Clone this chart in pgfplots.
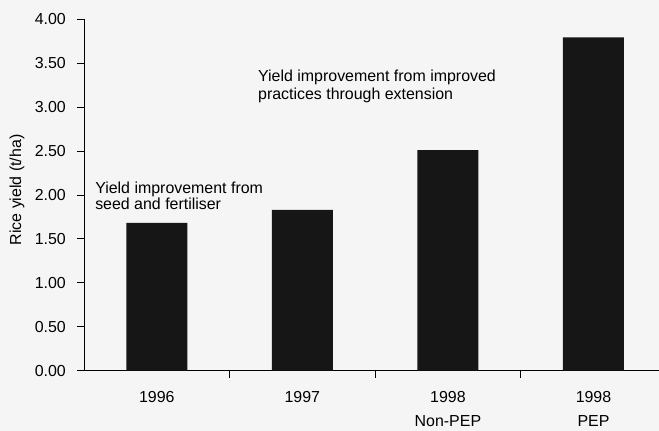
\documentclass[border=0pt]{standalone}
\usepackage{fontspec}
\setmainfont{Liberation Sans}
\usepackage{pgfplots}
\pgfplotsset{compat=1.18}
\usetikzlibrary{backgrounds}

\definecolor{barfill}{RGB}{22,22,22}
\definecolor{paper}{RGB}{245,245,245}

\newcommand{\chartfont}{\fontsize{16}{25}\selectfont}

\begin{document}
\begin{tikzpicture}
\begin{axis}[
  scale only axis,
  width=575bp, height=351.7bp,
  xmin=-0.5, xmax=3.45,
  ymin=0, ymax=4,
  axis x line=bottom, axis y line=left,
  axis line style={-, line width=0.7pt},
  tick style={line width=0.7pt, black},
  tick align=outside,
  major tick length=7bp,
  minor tick length=7bp,
  xtick={0,1,2,3},
  xticklabels={\raisebox{4bp}{1996},1997,{1998\\Non-PEP},{1998\\PEP}},
  major x tick style={draw=none},
  minor xtick={0.5,1.5,2.5},
  ytick={0,0.5,...,4},
  yticklabel style={/pgf/number format/fixed, /pgf/number format/fixed zerofill,
                    /pgf/number format/precision=2},
  /pgf/number format/assume math mode=true,
  yticklabel style={font=\chartfont, inner sep=0pt, anchor=east, xshift=-11bp},
  xticklabel style={font=\chartfont, inner sep=0pt, anchor=north, align=center, yshift=-13bp},
  ylabel={Rice yield (t/ha)},
  ylabel style={font=\chartfont, at={([xshift=-67bp]axis description cs:0,0.514)}, anchor=center},
  clip=false,
]
\coordinate (O) at (rel axis cs:0,0);
\addplot[ybar, bar width=61bp, fill=barfill, draw=none]
  coordinates {(0,1.68) (1,1.83) (2,2.51) (3,3.79)};
\node[anchor=north west, align=left, inner sep=0pt,
      font=\fontsize{16}{13.5}\selectfont]
  at (axis cs:-0.424,2.149) {Yield improvement from\\seed and fertiliser};
\node[anchor=north west, align=left, inner sep=0pt,
      font=\fontsize{16}{18}\selectfont]
  at (axis cs:0.695,3.42) {Yield improvement from improved\\practices through extension};
\end{axis}
\pgfresetboundingbox
\path ([shift={(-84bp,-60.3bp)}]O) rectangle ([shift={(575bp,370.7bp)}]O);
\begin{scope}[on background layer]
  \fill[paper] ([shift={(-84bp,-60.3bp)}]O) rectangle ([shift={(575bp,370.7bp)}]O);
\end{scope}
\end{tikzpicture}
\end{document}
